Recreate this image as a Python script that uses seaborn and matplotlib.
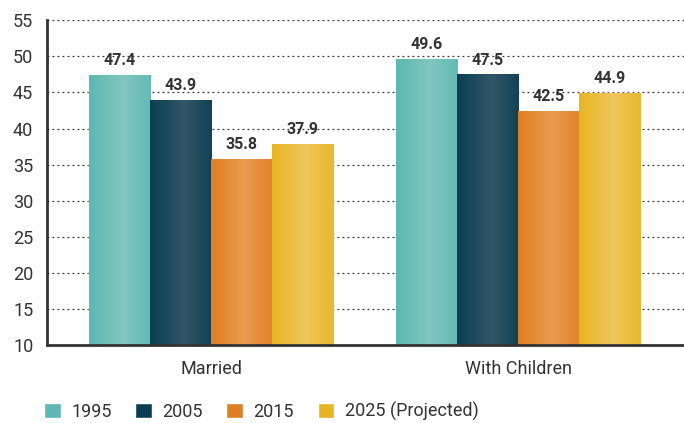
import numpy as np
import pandas as pd
import seaborn as sns
import matplotlib.pyplot as plt
from matplotlib.colors import to_rgb

sns.set_style("white")
plt.rcParams["font.family"] = ["Roboto", "DejaVu Sans"]

categories = ["Married", "With Children"]
years = ["1995", "2005", "2015", "2025 (Projected)"]
married = [47.4, 43.9, 35.8, 37.9]
with_children = [49.6, 47.5, 42.5, 44.9]

edge_colors = ["#5cb8b2", "#0b3d52", "#e07e22", "#e8b521"]
mid_colors = ["#82c6bf", "#325668", "#ea9b50", "#efc65b"]

df = pd.DataFrame({
    "group": np.repeat(categories, len(years)),
    "year": years * len(categories),
    "value": married + with_children,
})

fig = plt.figure(figsize=(6.84, 4.23), dpi=100)
ax = fig.add_axes([0.069, 0.184, 0.931, 0.768])

sns.barplot(data=df, x="group", y="value", hue="year", hue_order=years,
            palette=edge_colors, width=0.795, saturation=1, ax=ax, zorder=2)

# horizontal shading on each bar, lighter in the middle
for container, c0, c1 in zip(ax.containers, edge_colors, mid_colors):
    a, b = np.array(to_rgb(c0)), np.array(to_rgb(c1))
    t = np.linspace(0, 1, 64)
    w = 1 - np.abs(t - 0.55) / 0.55
    grad = (a[None, :] * (1 - w[:, None]) + b[None, :] * w[:, None])[None, :, :]
    for bar in container:
        x, y0 = bar.get_x(), bar.get_y()
        bw, bh = bar.get_width(), bar.get_height()
        im = ax.imshow(grad, extent=[x, x + bw, 10, y0 + bh], aspect="auto",
                       zorder=3, interpolation="bilinear")
        im.set_clip_path(bar)
    ax.bar_label(container, fmt="%.1f", padding=5, fontsize=11.5,
                 fontweight="bold", color="#333333", zorder=4)

ax.set_xlim(-0.534, 1.54)
ax.set_ylim(10, 55)
ax.set_yticks(range(10, 56, 5))
ax.set_xlabel("")
ax.set_ylabel("")
ax.yaxis.grid(True, linestyle=(0, (1.5, 2.5)), color="#333333", linewidth=0.9, zorder=0)
ax.set_axisbelow(True)

for side in ["top", "right"]:
    ax.spines[side].set_visible(False)
for side in ["left", "bottom"]:
    ax.spines[side].set_color("#333333")
    ax.spines[side].set_linewidth(2)
    ax.spines[side].set_zorder(5)

ax.tick_params(axis="both", length=0, labelsize=13, labelcolor="#333333")
ax.tick_params(axis="x", pad=11)
ax.tick_params(axis="y", pad=10)

handles, labels = ax.get_legend_handles_labels()
ax.legend(handles, labels, loc="lower left", bbox_to_anchor=(-0.03, -0.283),
          ncol=4, frameon=False, fontsize=13, handlelength=0.9, handleheight=0.9,
          handletextpad=0.6, columnspacing=1.3, labelcolor="#333333")

plt.savefig("out.png", dpi=100)
